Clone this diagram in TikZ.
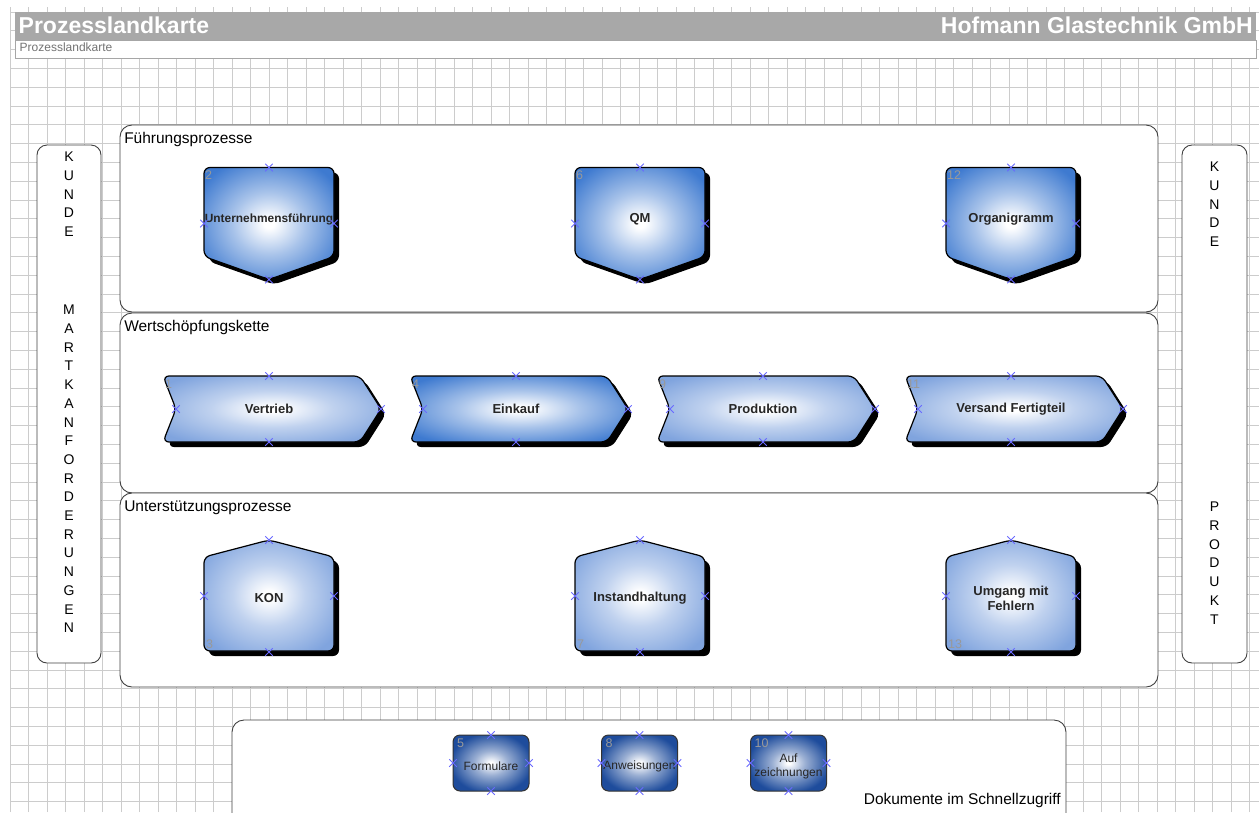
\documentclass[tikz,border=0pt]{standalone}
\usepackage{fontspec}
\setmainfont{Liberation Sans}
\usetikzlibrary{shapes.misc,positioning}

\definecolor{procdark}{RGB}{62,122,208}
\definecolor{proclight}{RGB}{128,164,222}
\definecolor{docblue}{RGB}{30,76,156}
\definecolor{pinblue}{RGB}{105,105,255}
\definecolor{headgray}{RGB}{168,168,168}

\pgfdeclareradialshading{glowdark}{\pgfpoint{0bp}{0bp}}{color(0bp)=(white); color(2bp)=(white); color(14bp)=(procdark!45!white); color(31bp)=(procdark); color(50bp)=(procdark)}
\pgfdeclareradialshading{glowlight}{\pgfpoint{0bp}{0bp}}{color(0bp)=(white); color(2bp)=(white); color(14bp)=(proclight!50!white); color(31bp)=(proclight); color(50bp)=(proclight)}
\pgfdeclareradialshading{glowdoc}{\pgfpoint{0bp}{0bp}}{color(0bp)=(white); color(1bp)=(white); color(11bp)=(docblue!45!white); color(27bp)=(docblue); color(50bp)=(docblue)}

\tikzset{
  gridline/.style={draw=black!20, line width=0.7pt},
  frame/.style={draw=black!75, line width=0.9pt, rounded corners=12pt, fill=white},
  framelabel/.style={font=\fontsize{15.5}{18}\selectfont, inner sep=0pt, anchor=base west},
  sidebox/.style={draw=black!75, line width=0.9pt, rounded corners=10pt, fill=white},
  sidetext/.style={font=\fontsize{14}{18.7}\selectfont, align=center, inner sep=0pt, anchor=north},
  titletext/.style={font=\bfseries\fontsize{23}{26}\selectfont, text=white, inner sep=0pt},
  subtext/.style={font=\fontsize{12}{14}\selectfont, text=black!55, inner sep=0pt, anchor=base west},
  procshape/.style={draw=black, line width=1.2pt, rounded corners=6pt},
  procshadow/.style={fill=black, rounded corners=6pt, shift={(5,5)}},
  proctext/.style={font=\bfseries\fontsize{13}{15.3}\selectfont, text=black!85, align=center, inner sep=0pt},
  doctext/.style={font=\fontsize{12}{14}\selectfont, text=black!85, align=center, inner sep=0pt},
  procnum/.style={font=\fontsize{12.5}{12.5}\selectfont, text=black!40, inner sep=0pt, anchor=west},
  pin/.style={cross out, draw=pinblue, line width=1pt, minimum size=6.5pt, inner sep=0pt},
  pics/downbox/.style 2 args={code={
    \fill[procshadow] (-65,-56) -- (65,-56) -- (65,33) -- (0,56) -- (-65,33) -- cycle;
    \shadedraw[procshape, shading=glowdark] (-65,-56) -- (65,-56) -- (65,33) -- (0,56) -- (-65,33) -- cycle;
    \node[proctext] (-t) at (0,-4) {#1};
    \node[procnum] (-n) at (-64,-48) {#2};
    \node[pin] (-top) at (0,-56) {};
    \node[pin] (-bot) at (0,56) {};
    \node[pin] (-lft) at (-65,0) {};
    \node[pin] (-rgt) at (65,0) {};
  }},
  pics/chevron/.style n args={3}{code={
    \fill[procshadow] (-106,-33) -- (91,-33) -- (112,0) -- (91,33) -- (-106,33) -- (-93,0) -- cycle;
    \shadedraw[procshape, shading=#3] (-106,-33) -- (91,-33) -- (112,0) -- (91,33) -- (-106,33) -- (-93,0) -- cycle;
    \node[proctext] (-t) at (0,0) {#1};
    \node[procnum] (-n) at (-104,-25) {#2};
    \node[pin] (-top) at (0,-33) {};
    \node[pin] (-bot) at (0,33) {};
    \node[pin] (-lft) at (-93,0) {};
    \node[pin] (-rgt) at (112,0) {};
  }},
  pics/housebox/.style 2 args={code={
    \fill[procshadow] (0,-56) -- (65,-39) -- (65,55) -- (-65,55) -- (-65,-39) -- cycle;
    \shadedraw[procshape, shading=glowlight] (0,-56) -- (65,-39) -- (65,55) -- (-65,55) -- (-65,-39) -- cycle;
    \node[proctext] (-t) at (0,2) {#1};
    \node[procnum] (-n) at (-63,48) {#2};
    \node[pin] (-top) at (0,-56) {};
    \node[pin] (-bot) at (0,56) {};
    \node[pin] (-lft) at (-65,0) {};
    \node[pin] (-rgt) at (65,0) {};
  }},
  pics/docbox/.style 2 args={code={
    \shadedraw[draw=black!80, line width=1pt, rounded corners=7pt, shading=glowdoc] (-38,-28) rectangle (38,28);
    \node[doctext] (-t) at (0,3) {#1};
    \node[procnum] (-n) at (-34,-20) {#2};
    \node[pin] (-top) at (0,-28) {};
    \node[pin] (-bot) at (0,28) {};
    \node[pin] (-lft) at (-38,0) {};
    \node[pin] (-rgt) at (38,0) {};
  }}
}

\begin{document}
\begin{tikzpicture}[x=1pt,y=-1pt]
  \useasboundingbox (0,0) rectangle (1259,812);
  \begin{scope}[x=1pt,y=1pt]
    \draw[gridline,xshift=10pt,yshift=-12pt] (0,-800) grid[xstep=18.5,ystep=18.8] (1249,5);
  \end{scope}

  \fill[headgray] (15,12) rectangle (1256,40);
  \draw[draw=black!35,fill=white] (15,40) rectangle (1256,58);
  \node[titletext,anchor=base west] (title) at (18.5,33) {Prozesslandkarte};
  \node[titletext,anchor=base east] (firm) at (1253,33) {Hofmann Glastechnik GmbH};
  \node[subtext] (subtitle) at (19.5,51.5) {Prozesslandkarte};

  \node[sidebox,minimum width=64pt,minimum height=518pt] (kunde-l) at (69,404) {};
  \node[sidetext] (kunde-l-a) at (69,152) {K\\U\\N\\D\\E};
  \node[sidetext] (kunde-l-b) at (69,305) {M\\A\\R\\T\\K\\A\\N\\F\\O\\R\\D\\E\\R\\U\\N\\G\\E\\N};
  \node[sidebox,minimum width=65pt,minimum height=518pt] (kunde-r) at (1214.5,404) {};
  \node[sidetext] (kunde-r-a) at (1214.5,162) {K\\U\\N\\D\\E};
  \node[sidetext] (kunde-r-b) at (1214.5,502) {P\\R\\O\\D\\U\\K\\T};

  \node[frame,minimum width=1038pt,minimum height=187pt] (fuehrung) at (639,218.5) {};
  \node[frame,minimum width=1038pt,minimum height=180pt] (wert) at (639,403) {};
  \node[frame,minimum width=1038pt,minimum height=194pt] (stuetz) at (639,590) {};
  \node[framelabel] (fuehrung-l) at ([xshift=4.5pt,yshift=-19pt]fuehrung.north west) {Führungsprozesse};
  \node[framelabel] (wert-l) at ([xshift=4.5pt,yshift=-18.5pt]wert.north west) {Wertschöpfungskette};
  \node[framelabel] (stuetz-l) at ([xshift=4.5pt,yshift=-18.5pt]stuetz.north west) {Unterstützungsprozesse};

  \pic (uf) at (269,223.5) {downbox={\fontsize{11.9}{14}\selectfont Unternehmensführung}{2}};
  \pic (qm) at (640,223.5) {downbox={QM}{6}};
  \pic (org) at (1011,223.5) {downbox={Organigramm}{12}};

  \pic (vertrieb) at (269,409) {chevron={Vertrieb}{1}{glowlight}};
  \pic (einkauf) at (516,409) {chevron={Einkauf}{4}{glowdark}};
  \pic (prod) at (763,409) {chevron={Produktion}{9}{glowlight}};
  \pic (versand) at (1011,409) {chevron={Versand Fertigteil}{11}{glowlight}};

  \pic (kon) at (269,596) {housebox={KON}{3}};
  \pic (inst) at (640,596) {housebox={Instandhaltung}{7}};
  \pic (fehler) at (1011,596) {housebox={Umgang mit\\Fehlern}{13}};

  \fill[white] (232,830) -- (232,732) arc[start angle=180,end angle=270,radius=12] -- (1054,720) arc[start angle=270,end angle=360,radius=12] -- (1066,830) -- cycle;
  \draw[frame,fill=none] (232,830) -- (232,720) -- (1066,720) -- (1066,830);
  \node[framelabel,anchor=base east] (dok-l) at (1061,804) {Dokumente im Schnellzugriff};

  \pic (form) at (491,763) {docbox={Formulare}{5}};
  \pic (anw) at (639.5,763) {docbox={Anweisungen}{8}};
  \pic (aufz) at (788.5,763) {docbox={Auf\\zeichnungen}{10}};
\end{tikzpicture}
\end{document}
